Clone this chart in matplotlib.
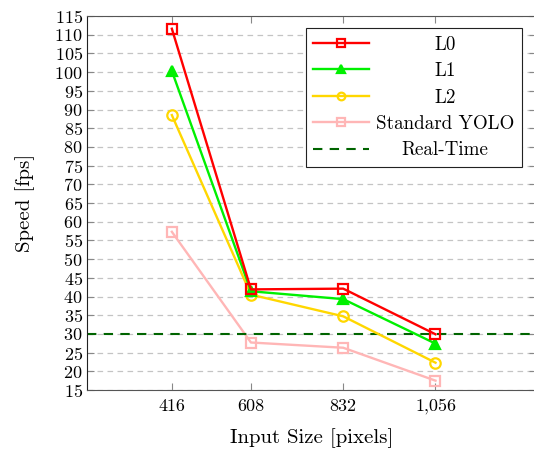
import numpy as np
import matplotlib
matplotlib.use('Agg')
import matplotlib.pyplot as plt

plt.rcParams['font.family'] = 'cmr10'
plt.rcParams['axes.formatter.use_mathtext'] = True

sizes = [416, 608, 832, 1056]
size_labels = ['416', '608', '832', '1,056']
l0 = [111.6, 41.9, 42.1, 29.9]
l1 = [100.3, 41.4, 39.3, 27.4]
l2 = [88.5, 40.5, 34.7, 22.3]
yolo = [57.3, 27.7, 26.3, 17.5]
realtime = 30

fig = plt.figure(figsize=(5.34, 4.5), dpi=100)
ax = fig.add_axes([87/534, 1 - 390/450, (536-87)/534, (390-16)/450])

ax.plot(sizes, l0, color='#ff0000', lw=1.7, marker='s', ms=7.5, mfc='none', mew=1.6, label='L0', zorder=5)
ax.plot(sizes, l1, color='#00f000', lw=1.7, marker='^', ms=7.5, mew=1.6, label='L1', zorder=4)
ax.plot(sizes, l2, color='#ffd700', lw=1.7, marker='o', ms=7.5, mfc='none', mew=1.6, label='L2', zorder=3)
ax.plot(sizes, yolo, color='#ffb6b6', lw=1.7, marker='s', ms=7.5, mfc='none', mew=1.6, label='Standard YOLO', zorder=2)
ax.axhline(realtime, color='#006400', lw=1.5, ls=(0, (4.5, 3.5)), label='Real-Time', zorder=2.5)

ax.set_xlim(210, 1300)
ax.set_ylim(15, 115)
ax.set_xticks(sizes)
ax.set_xticklabels(size_labels)
ax.set_yticks(np.arange(15, 116, 5))
ax.tick_params(direction='in', top=True, right=True, length=5, color='#888888', labelsize=13)
ax.tick_params(axis='y', pad=3)
ax.tick_params(axis='x', pad=6)
ax.yaxis.grid(True, ls=(0, (4.5, 3.5)), color='#c4c4c4', lw=0.9)
for s in ax.spines.values():
    s.set_color('#555555')
ax.spines['left'].set_color('#222222')

ax.set_xlabel('Input Size [pixels]', fontsize=15, labelpad=10)
ax.set_ylabel('Speed [fps]', fontsize=15, labelpad=14)

leg = ax.legend(loc='upper right', bbox_to_anchor=(522/534, 1 - 28/450), bbox_transform=fig.transFigure,
                fancybox=False, edgecolor='#222222', framealpha=1, borderaxespad=0,
                fontsize=13.7, handlelength=2.9, labelspacing=0.45, borderpad=0.4, handletextpad=0.4)
leg.get_frame().set_linewidth(0.8)
for h in leg.legend_handles:
    h.set_markersize(5.5)
fig.canvas.draw()
renderer = fig.canvas.get_renderer()
widths = [t.get_window_extent(renderer).width for t in leg.get_texts()]
maxw = max(widths)
for t, w in zip(leg.get_texts(), widths):
    t.set_position(((maxw - w) / 2, 0))

fig.savefig('out.png', dpi=100)
